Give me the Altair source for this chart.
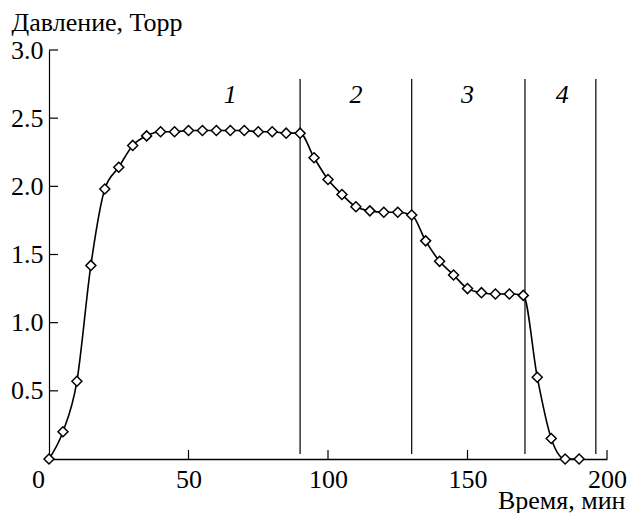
import altair as alt
import pandas as pd

# Data
time_min = [0, 5, 10, 15, 20, 25, 30, 35, 40, 45, 50, 55, 60, 65, 70, 75, 80, 85, 90,
            95, 100, 105, 110, 115, 120, 125, 130, 135, 140, 145, 150, 155, 160, 165, 170,
            175, 180, 185, 190]
pressure = [0.0, 0.20, 0.57, 1.42, 1.98, 2.14, 2.30, 2.37, 2.40, 2.40, 2.41, 2.41, 2.41, 2.41, 2.41, 2.40, 2.40, 2.39, 2.39,
            2.21, 2.05, 1.94, 1.85, 1.82, 1.81, 1.81, 1.79, 1.60, 1.45, 1.35, 1.25, 1.22, 1.21, 1.21, 1.20,
            0.60, 0.15, 0.0, 0.0]

boundaries = [90, 130, 170.6, 196]
stage_labels = ["1", "2", "3", "4"]
stage_x = [65, 110, 150, 184]

x_ticks = [0, 50, 100, 150, 200]
y_ticks = [0.5, 1.0, 1.5, 2.0, 2.5, 3.0]

FONT = "Liberation Serif"
FS = 26

df = pd.DataFrame({"t": time_min, "p": pressure})
bdf = pd.DataFrame({"b": boundaries})
ldf = pd.DataFrame({"x": stage_x, "lab": stage_labels})
xt = pd.DataFrame({"v": x_ticks[1:]})
yt = pd.DataFrame({"v": y_ticks})

xscale = alt.Scale(domain=[0, 200], nice=False)
yscale = alt.Scale(domain=[0, 3.0], nice=False)

xenc = alt.X("t:Q", scale=xscale,
             axis=alt.Axis(values=x_ticks, ticks=False, grid=False, domainColor="black",
                           domainWidth=1.6, labelFont=FONT, labelFontSize=FS, labelColor="black",
                           labelPadding=7, labelFlush=False,
                           labelOffset={"condition": {"test": "datum.value === 0", "value": -11}, "value": 0},
                           title="Время, мин", titleFont=FONT, titleFontSize=FS,
                           titleFontWeight="normal", titleColor="black",
                           titleAlign="right", titleBaseline="alphabetic",
                           titleX=576, titleY=49))
yenc = alt.Y("p:Q", scale=yscale,
             axis=alt.Axis(values=y_ticks, ticks=False, grid=False, domainColor="black",
                           domainWidth=1.2, labelFont=FONT, labelFontSize=FS, labelColor="black",
                           labelPadding=6, format=".1f", labelFlush=False,
                           title="Давление, Торр", titleFont=FONT, titleFontSize=FS,
                           titleFontWeight="normal", titleColor="black", titleAngle=0,
                           titleAlign="left", titleBaseline="alphabetic",
                           titleX=-38, titleY=-20))

line = alt.Chart(df).mark_line(color="black", strokeWidth=1.6, interpolate="monotone").encode(
    x=xenc, y=yenc)

pts = alt.Chart(df).mark_point(shape="diamond", size=100, filled=True, fill="white",
                               stroke="black", strokeWidth=1.5, opacity=1).encode(
    x="t:Q", y="p:Q")

vlines = alt.Chart(bdf).mark_rule(color="black", strokeWidth=1.2).encode(
    x=alt.X("b:Q", scale=xscale), y=alt.value(29), y2=alt.value(404))

labels = alt.Chart(ldf).mark_text(font=FONT, fontSize=FS, fontStyle="italic",
                                  color="black", baseline="middle").encode(
    x=alt.X("x:Q", scale=xscale), y=alt.value(45), text="lab:N")

xticks = alt.Chart(xt).mark_rule(color="black", strokeWidth=1.2, y2Offset=-9).encode(
    x=alt.X("v:Q", scale=xscale), y=alt.datum(0, scale=yscale), y2=alt.datum(0))

yticks = alt.Chart(yt).mark_rule(color="black", strokeWidth=1.2, x2Offset=9).encode(
    y=alt.Y("v:Q", scale=yscale), x=alt.datum(0, scale=xscale), x2=alt.datum(0))

chart = alt.layer(vlines, xticks, yticks, line, pts, labels).properties(
    width=558, height=409,
    autosize=alt.AutoSizeParams(type="none"),
    padding={"left": 41, "top": 42, "right": 20, "bottom": 54},
).configure(font=FONT, background="white").configure_view(stroke=None)

chart.save("out.html", embed_options={"renderer": "svg", "actions": False})
